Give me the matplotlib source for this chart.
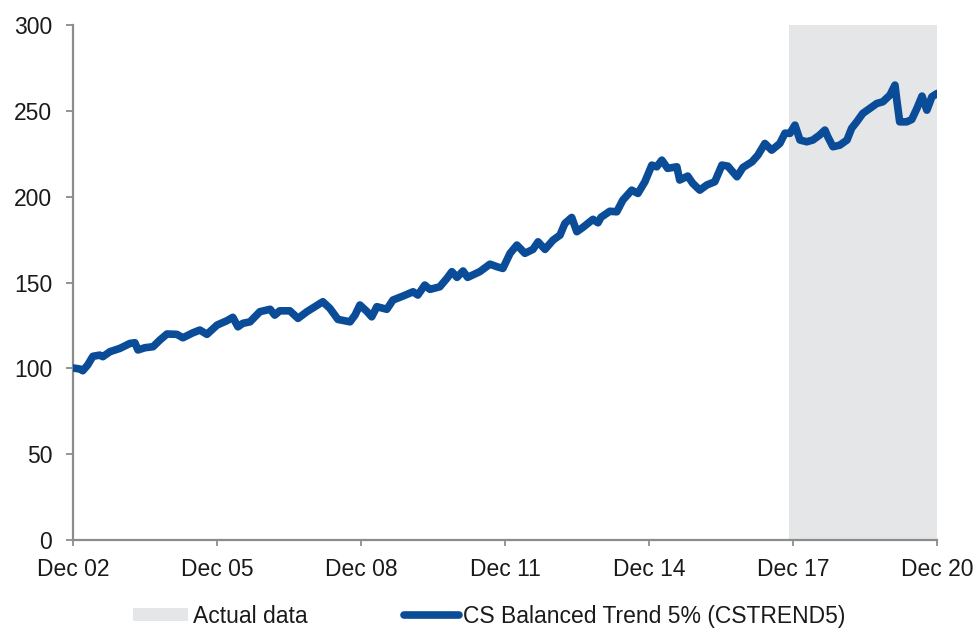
import matplotlib
matplotlib.use("Agg")
import matplotlib.pyplot as plt
import pandas as pd

plt.rcParams["font.family"] = ["Liberation Sans", "DejaVu Sans"]

dates = [
    "2002-12-31", "2003-02-22", "2003-03-15", "2003-04-22", "2003-05-31", "2003-07-22",
    "2003-08-15", "2003-10-08", "2003-12-22", "2004-03-08", "2004-04-15", "2004-05-08",
    "2004-06-30", "2004-08-31", "2004-10-22", "2004-12-15", "2005-02-28", "2005-04-15",
    "2005-06-30", "2005-08-22", "2005-10-15", "2005-12-31", "2006-03-15", "2006-04-30",
    "2006-06-08", "2006-07-15", "2006-09-08", "2006-11-22", "2007-02-08", "2007-03-15",
    "2007-04-22", "2007-07-08", "2007-09-08", "2007-11-15", "2008-01-15", "2008-03-15",
    "2008-05-08", "2008-07-08", "2008-10-08", "2008-11-15", "2008-12-22", "2009-02-15",
    "2009-03-22", "2009-04-30", "2009-07-15", "2009-08-31", "2009-11-15", "2010-01-31",
    "2010-03-08", "2010-04-30", "2010-06-08", "2010-08-22", "2010-10-15", "2010-11-22",
    "2010-12-31", "2011-02-15", "2011-03-22", "2011-06-22", "2011-09-08", "2011-10-31",
    "2011-12-15", "2012-02-08", "2012-03-31", "2012-05-31", "2012-07-31", "2012-09-08",
    "2012-10-31", "2012-12-31", "2013-02-22", "2013-03-31", "2013-05-22", "2013-06-30",
    "2013-08-15", "2013-10-31", "2013-12-08", "2013-12-31", "2014-03-08", "2014-04-30",
    "2014-06-15", "2014-08-22", "2014-10-08", "2014-11-30", "2015-01-22", "2015-02-28",
    "2015-04-08", "2015-05-22", "2015-07-31", "2015-08-22", "2015-10-22", "2015-11-30",
    "2016-01-22", "2016-03-15", "2016-05-15", "2016-07-08", "2016-08-22", "2016-10-31",
    "2016-12-15", "2017-02-22", "2017-04-08", "2017-05-31", "2017-07-22", "2017-09-22",
    "2017-10-31", "2017-12-08", "2018-01-15", "2018-02-22", "2018-04-15", "2018-05-31",
    "2018-07-22", "2018-08-31", "2018-09-22", "2018-10-31", "2018-12-22", "2019-02-15",
    "2019-03-22", "2019-04-30", "2019-06-15", "2019-08-08", "2019-09-30", "2019-11-15",
    "2020-01-08", "2020-02-15", "2020-02-29", "2020-03-22", "2020-05-15", "2020-06-22",
    "2020-07-31", "2020-09-08", "2020-10-15", "2020-11-22", "2020-12-31",
]
cstrend5 = [
    100.2, 99.6, 98.6, 102.0, 107.0, 107.7,
    106.8, 109.7, 111.6, 114.5, 114.9, 110.7,
    112.0, 112.6, 116.5, 120.0, 119.8, 117.8,
    120.7, 122.3, 119.8, 125.2, 127.7, 129.7,
    124.2, 126.2, 127.1, 133.0, 134.4, 131.0,
    133.5, 133.5, 129.1, 133.0, 135.9, 138.8,
    134.9, 128.5, 127.1, 131.0, 136.9, 133.0,
    130.0, 135.9, 134.4, 139.8, 142.1, 144.6,
    142.7, 148.5, 146.0, 147.5, 152.4, 156.3,
    153.0, 156.7, 153.0, 156.3, 160.7, 159.2,
    158.2, 167.0, 171.8, 167.0, 169.3, 173.7,
    169.3, 174.7, 177.6, 184.4, 187.9, 179.6,
    182.1, 186.8, 184.8, 188.0, 191.5, 191.2,
    198.0, 203.8, 201.9, 208.7, 218.4, 217.4,
    221.3, 216.5, 217.4, 209.7, 212.0, 207.7,
    203.8, 206.8, 208.7, 218.4, 217.8, 211.6,
    217.0, 220.3, 224.2, 231.0, 227.1, 231.0,
    237.0, 236.9, 241.7, 233.0, 232.0, 233.0,
    235.9, 238.8, 234.9, 229.1, 230.0, 233.0,
    239.8, 243.6, 248.5, 251.4, 254.3, 255.3,
    259.2, 265.0, 256.3, 243.6, 243.6, 245.0,
    251.4, 258.6, 250.4, 258.2, 260.1,
]
actual_start, actual_end = "2017-11-30", "2020-12-31"
tick_dates = ["2002-12-31", "2005-12-31", "2008-12-31", "2011-12-31",
              "2014-12-31", "2017-12-31", "2020-12-31"]
tick_labels = ["Dec 02", "Dec 05", "Dec 08", "Dec 11", "Dec 14", "Dec 17", "Dec 20"]
y_ticks = [0, 50, 100, 150, 200, 250, 300]

blue = "#0A4C97"
shade = "#E5E6E8"
axis_grey = "#8C8C8C"
text_col = "#1A1A1A"

fig = plt.figure(figsize=(9.79, 6.32), dpi=100)
ax = fig.add_axes([0.0746, 0.1456, 0.8825, 0.8148])

ax.axvspan(pd.Timestamp(actual_start), pd.Timestamp(actual_end), color=shade,
           lw=0, zorder=0, label="Actual data")
ax.plot(pd.to_datetime(dates), cstrend5, color=blue, lw=5.5,
        solid_capstyle="round", solid_joinstyle="round", zorder=3,
        label="CS Balanced Trend 5% (CSTREND5)")

ax.set_xlim(pd.Timestamp(tick_dates[0]), pd.Timestamp(tick_dates[-1]))
ax.set_ylim(0, 300)
ax.set_xticks(pd.to_datetime(tick_dates))
ax.set_xticklabels(tick_labels)
ax.set_yticks(y_ticks)

for side in ("top", "right"):
    ax.spines[side].set_visible(False)
for side in ("left", "bottom"):
    ax.spines[side].set_color(axis_grey)
    ax.spines[side].set_linewidth(1.6)

ax.tick_params(axis="both", direction="out", color=axis_grey, width=1.3,
               labelsize=16.5, labelcolor=text_col)
ax.tick_params(axis="y", length=5, pad=10)
ax.tick_params(axis="x", length=4, pad=9)

fig.legend(loc="lower center", bbox_to_anchor=(0.5, -0.026), ncol=2, frameon=False,
           fontsize=16.5, labelcolor=text_col, handlelength=2.4, handleheight=0.5,
           handletextpad=0.2, columnspacing=4.2)

fig.savefig("out.png", dpi=100)
